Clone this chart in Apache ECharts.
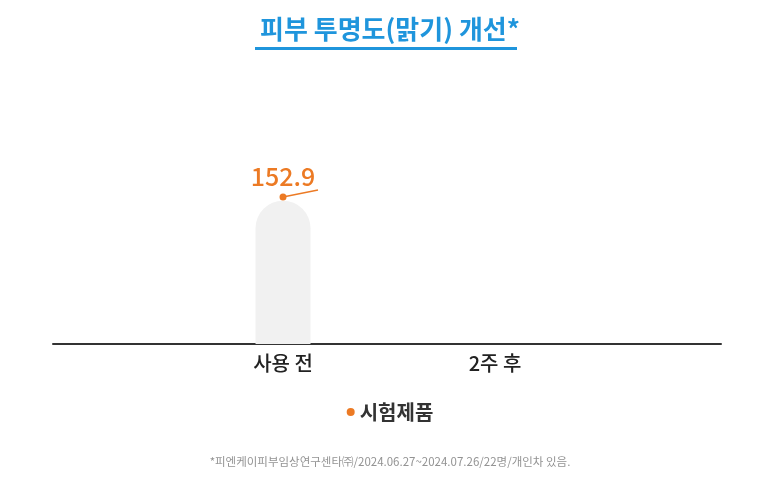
<!DOCTYPE html>
<html>
<head>
<meta charset="utf-8">
<script src="https://cdn.jsdelivr.net/npm/echarts@6/dist/echarts.min.js"></script>
<style>
  html, body { margin: 0; padding: 0; background: #fff; }
  #chart { width: 780px; height: 504px; }
</style>
</head>
<body>
<div id="chart"></div>
<script>
// categories on the x axis (positions 0 and 1 on the value axis)
const categories = ['사용 전', '2주 후'];
const categoryPos = [0, 1];
// grey background bar
const barValues = [149];
// test product line: only the first point is marked, the segment after it is partly drawn
const lineValues = [152.9, 160.2];
const linePos = [0, 0.165];
const seriesName = '시험제품';
const footnote = '*피엔케이피부임상연구센타㈜/2024.06.27~2024.07.26/22명/개인차 있음.';

const orange = '#ec7a24';
const blue = '#1f95dc';

const chart = echarts.init(document.getElementById('chart'));

const options = {
    animation: false,
    title: [{
        text: '피부 투명도(맑기) 개선*',
        left: 'center',
        top: 11,
        textStyle: {
            color: blue,
            fontSize: 26,
            fontWeight: 'bold',
            fontFamily: 'Noto Sans CJK KR'
        }
    }, {
        text: footnote,
        left: 'center',
        top: 451,
        textStyle: {
            color: '#939393',
            fontSize: 11.5,
            fontWeight: 'normal',
            fontFamily: 'Noto Sans CJK KR'
        }
    }],
    graphic: [{
        type: 'rect',
        left: 255,
        top: 47,
        shape: { width: 262, height: 3 },
        style: { fill: blue }
    }],
    legend: {
        bottom: 77,
        left: 'center',
        icon: 'circle',
        itemWidth: 8,
        itemHeight: 8,
        itemGap: 10,
        data: [seriesName],
        textStyle: {
            color: '#333',
            fontSize: 20,
            fontWeight: 'bold',
            fontFamily: 'Noto Sans CJK KR'
        }
    },
    grid: {
        left: 53,
        right: 59,
        top: 70,
        bottom: 160
    },
    xAxis: {
        type: 'value',
        min: -1.085,
        max: 2.066,
        splitLine: { show: false },
        axisTick: { show: false },
        axisLine: {
            show: true,
            onZero: false,
            lineStyle: { color: '#333', width: 2 }
        },
        axisLabel: {
            customValues: categoryPos,
            margin: 9,
            color: '#222',
            fontSize: 20,
            fontWeight: 500,
            fontFamily: 'Noto Sans CJK KR',
            formatter: function (v) {
                const i = categoryPos.indexOf(Math.round(v));
                return i >= 0 ? categories[i] : '';
            }
        }
    },
    yAxis: {
        type: 'value',
        min: 0,
        max: 285,
        show: false
    },
    series: [{
        type: 'bar',
        name: 'bg',
        barWidth: 55,
        silent: true,
        itemStyle: {
            color: '#f1f1f1',
            borderRadius: [27.5, 27.5, 0, 0]
        },
        data: categoryPos.slice(0, barValues.length).map(function (p, i) {
            return [p, barValues[i]];
        })
    }, {
        type: 'line',
        name: seriesName,
        color: orange,
        symbol: 'circle',
        symbolSize: 7,
        lineStyle: { color: orange, width: 1.5 },
        label: {
            show: true,
            position: 'top',
            distance: 5,
            color: orange,
            fontSize: 25,
            fontWeight: 500,
            fontFamily: 'Noto Sans CJK KR'
        },
        data: lineValues.map(function (v, i) {
            const item = { value: [linePos[i], v] };
            if (i > 0) {
                item.symbol = 'none';
                item.label = { show: false };
            }
            return item;
        })
    }]
};
chart.setOption(options);
</script>
</body>
</html>
